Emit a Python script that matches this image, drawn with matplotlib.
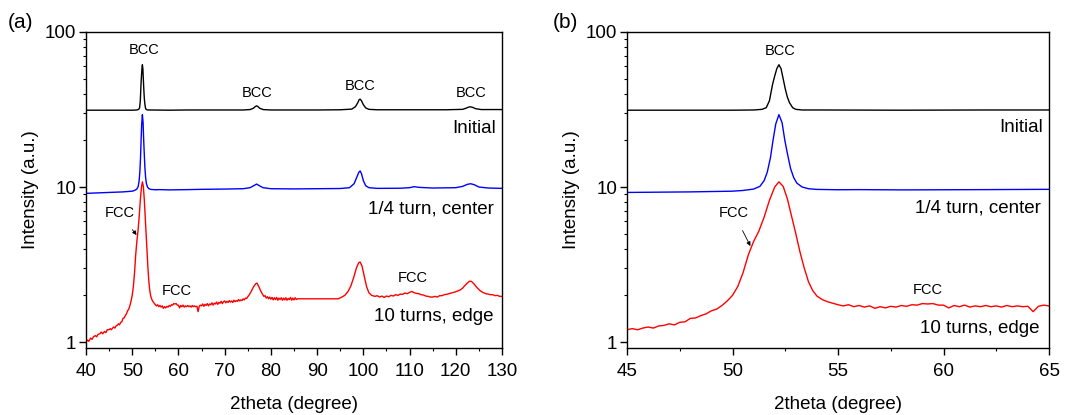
import matplotlib
matplotlib.use("Agg")
import matplotlib.pyplot as plt
from matplotlib.ticker import MultipleLocator, LogLocator, FixedLocator, FixedFormatter, NullFormatter

plt.rcParams['font.family'] = ['Liberation Sans', 'DejaVu Sans']

# ---------------- data ----------------
initial_x = [40, 45, 50, 51.0, 51.4, 51.6, 51.75, 51.9, 52.0, 52.1, 52.2, 52.3, 52.4, 52.5, 52.6, 52.7,
             52.85, 53.0, 53.3, 54, 58, 62, 66, 70, 74, 75.5, 76.2, 76.6, 76.9, 77.2, 77.6, 78.3, 80,
             85, 90, 95, 97.5, 98.3, 98.8, 99.1, 99.3, 99.6, 100.0, 100.5, 101.2, 103, 108, 113, 118,
             121.5, 122.3, 122.8, 123.2, 123.7, 124.3, 125.5, 128, 130]
initial_y = [31.3, 31.3, 31.3, 31.4, 31.7, 32.5, 36, 46, 52, 58, 61.5, 58, 50, 43, 38, 35,
             32.5, 31.7, 31.4, 31.4, 31.3, 31.4, 31.4, 31.4, 31.4, 31.6, 32.2, 33.0, 33.4, 33.0, 32.2, 31.6, 31.4,
             31.4, 31.4, 31.5, 31.8, 33, 35, 36.6, 36.9, 36, 34, 32.4, 31.7, 31.5, 31.5, 31.5, 31.5,
             31.7, 32.3, 32.8, 32.9, 32.6, 32.0, 31.6, 31.6, 31.6]

quarter_x = [40, 42, 44, 46, 48, 50, 50.5, 51.0, 51.3, 51.5, 51.65, 51.8, 51.92, 52.05, 52.2, 52.35,
             52.48, 52.6, 52.75, 52.9, 53.05, 53.3, 53.6, 54, 55, 56, 58, 60, 62, 65, 70, 74, 75.5,
             76.3, 76.9, 77.5, 78.3, 80, 85, 90, 95, 97, 98, 98.6, 99.0, 99.3, 99.6, 100.0, 100.5,
             101.2, 103, 108, 110, 111, 112, 115, 120, 121.5, 122.5, 123.2, 124, 125, 127, 130]
quarter_y = [9.1, 9.15, 9.2, 9.25, 9.3, 9.4, 9.5, 9.7, 10.1, 11.0, 12.5, 15.5, 20, 25.5, 29.3, 26,
             20, 16.5, 13.2, 11.5, 10.6, 10.0, 9.75, 9.65, 9.6, 9.62, 9.58, 9.6, 9.62, 9.66, 9.7, 9.75, 9.9,
             10.2, 10.45, 10.2, 9.9, 9.75, 9.72, 9.75, 9.78, 9.9, 10.5, 11.6, 12.4, 12.7, 12.2, 11.0, 10.2,
             9.9, 9.8, 9.82, 9.9, 10.05, 9.95, 9.85, 9.9, 10.1, 10.4, 10.5, 10.35, 10.0, 9.85, 9.8]

edge_x = [40.0, 40.3, 40.6, 41.0, 41.3, 41.6, 42.0, 42.3, 42.6, 43.0, 43.3, 43.6, 44.0, 44.3, 44.6,
          45.0, 45.25, 45.5, 45.75, 46.0, 46.25, 46.5, 46.75, 47.0, 47.25, 47.5, 47.75, 48.0, 48.25,
          48.5, 48.75, 49.0, 49.25, 49.5, 49.75, 50.0, 50.25, 50.5, 50.75, 51.0, 51.25, 51.5, 51.75,
          52.0, 52.2, 52.4, 52.6, 52.8, 53.0, 53.2, 53.4, 53.6, 53.8, 54.0, 54.25, 54.5, 54.75,
          55.0, 55.25, 55.5, 55.75, 56.0, 56.25, 56.5, 56.75, 57.0, 57.25, 57.5, 57.75, 58.0, 58.25,
          58.5, 58.75, 59.0, 59.25, 59.5, 59.75, 60.0, 60.25, 60.5, 60.75, 61.0, 61.25, 61.5, 61.75,
          62.0, 62.25, 62.5, 62.75, 63.0, 63.25, 63.5, 63.75, 64.0, 64.25, 64.5, 64.75, 65.0,
          65.25, 65.5, 65.75, 66.0, 66.25, 66.5, 66.75, 67.0, 67.25, 67.5, 67.75, 68.0, 68.25, 68.5,
          68.75, 69.0, 69.25, 69.5, 69.75, 70.0, 70.25, 70.5, 70.75, 71.0, 71.25, 71.5, 71.75, 72.0,
          72.25, 72.5, 72.75, 73.0, 73.25, 73.5, 73.75, 74.0, 74.25, 74.5, 74.75, 75.0, 75.25, 75.5,
          75.75, 76.0, 76.25, 76.5, 76.75, 77.0, 77.25, 77.5, 77.75, 78.0, 78.25, 78.5, 78.75, 79.0,
          79.25, 79.5, 79.75, 80.0, 80.25, 80.5, 80.75, 81.0, 81.25, 81.5, 81.75, 82.0, 82.25, 82.5,
          82.75, 83.0, 83.25, 83.5, 83.75, 84.0, 84.25, 84.5, 84.75, 85.0, 85.25, 85.5, 85.7,
          94.6, 95.2, 96.0, 96.7, 97.3, 97.9, 98.5, 99.0, 99.3, 99.7, 100.2, 100.7, 101.2, 101.8,
          102.5, 103.0, 103.5, 104.0, 104.5, 105.0, 105.5, 106.0, 106.5, 107.0, 107.5, 108.0, 108.5,
          109.0, 109.5, 110.0, 110.5, 111.0, 111.5, 112.0, 112.5, 113.0, 113.5, 114.0, 114.5, 115.0,
          115.5, 116.0, 116.5, 117.0, 117.5, 118.0, 118.5, 119.0, 119.5, 120.0, 120.5, 121.0, 121.5,
          122.0, 122.5, 123.0, 123.4, 124.0, 124.5, 125.0, 125.5, 126.0, 126.5, 127.0, 127.5, 128.0,
          128.5, 129.0, 129.5, 130.0]
edge_y = [1.00, 1.03, 1.01, 1.06, 1.04, 1.08, 1.10, 1.08, 1.12, 1.13, 1.16, 1.13, 1.17, 1.15, 1.20,
          1.20, 1.22, 1.20, 1.23, 1.25, 1.23, 1.27, 1.28, 1.31, 1.29, 1.34, 1.35, 1.42, 1.43,
          1.48, 1.52, 1.59, 1.63, 1.72, 1.84, 2.00, 2.28, 2.80, 3.65, 4.45, 5.2, 6.4, 8.2,
          10.0, 10.8, 10.1, 8.4, 6.5, 5.0, 3.8, 3.0, 2.45, 2.15, 1.98, 1.88, 1.82, 1.78,
          1.74, 1.71, 1.74, 1.69, 1.72, 1.68, 1.71, 1.65, 1.69, 1.66, 1.70, 1.68, 1.72, 1.70,
          1.74, 1.73, 1.77, 1.76, 1.77, 1.73, 1.73, 1.66, 1.72, 1.69, 1.73, 1.68, 1.71, 1.69,
          1.72, 1.69, 1.71, 1.68, 1.72, 1.69, 1.71, 1.69, 1.70, 1.57, 1.70, 1.73, 1.71,
          1.76, 1.70, 1.75, 1.72, 1.77, 1.71, 1.76, 1.74, 1.79, 1.73, 1.78, 1.76, 1.81, 1.75,
          1.80, 1.78, 1.83, 1.77, 1.82, 1.84, 1.79, 1.83, 1.80, 1.85, 1.81, 1.84, 1.80, 1.86,
          1.82, 1.85, 1.83, 1.88, 1.84, 1.87, 1.85, 1.90, 1.87, 1.92, 1.91, 1.96, 2.00, 2.06,
          2.12, 2.20, 2.27, 2.33, 2.38, 2.40, 2.32, 2.24, 2.15, 2.08, 2.02, 1.97, 1.99, 1.92,
          1.96, 1.90, 1.95, 1.89, 1.94, 1.87, 1.93, 1.88, 1.94, 1.86, 1.92, 1.88, 1.93, 1.86,
          1.92, 1.87, 1.93, 1.86, 1.91, 1.88, 1.94, 1.86, 1.92, 1.87, 1.93, 1.88, 1.90,
          1.90, 1.94, 2.00, 2.12, 2.30, 2.60, 3.00, 3.25, 3.28, 3.10, 2.65, 2.28, 2.08, 2.00,
          1.97, 1.99, 1.95, 1.98, 1.94, 1.98, 1.96, 2.00, 1.98, 2.02, 2.00, 2.04, 2.03,
          2.07, 2.05, 2.09, 2.12, 2.08, 2.06, 2.05, 2.02, 2.01, 1.98, 1.97, 1.95, 1.95,
          1.97, 1.95, 1.99, 1.99, 2.02, 2.03, 2.05, 2.07, 2.09, 2.11, 2.14, 2.17, 2.23,
          2.32, 2.40, 2.47, 2.46, 2.36, 2.26, 2.18, 2.12, 2.08, 2.05, 2.04, 2.02, 2.02,
          1.99, 2.00, 1.97, 1.97]

series_labels = ["Initial", "1/4 turn, center", "10 turns, edge"]
x_ticks_a = [40, 50, 60, 70, 80, 90, 100, 110, 120, 130]
x_ticks_b = [45, 50, 55, 60, 65]
y_ticks = [1, 10, 100]
y_tick_labels = ["1", "10", "100"]

# ---------------- figure ----------------
fig = plt.figure(figsize=(10.73, 4.15), dpi=100)
ax_a = fig.add_axes([86 / 1073, 67 / 415, 416 / 1073, 316 / 415])
ax_b = fig.add_axes([627 / 1073, 67 / 415, 422 / 1073, 316 / 415])

FS = 13.5
for ax in (ax_a, ax_b):
    ax.plot(initial_x, initial_y, color='black', lw=1.0)
    ax.plot(quarter_x, quarter_y, color='#0000ff', lw=1.0)
    ax.plot(edge_x, edge_y, color='#ff0000', lw=1.0)
    ax.set_yscale('log')
    ax.set_ylim(0.915, 100)
    ax.yaxis.set_major_locator(FixedLocator(y_ticks))
    ax.yaxis.set_major_formatter(FixedFormatter(y_tick_labels))
    ax.yaxis.set_minor_locator(LogLocator(base=10, subs=range(2, 10)))
    ax.yaxis.set_minor_formatter(NullFormatter())
    ax.tick_params(which='both', direction='out', top=False, right=False, labelsize=FS)
    ax.tick_params(which='major', length=5, width=1)
    ax.tick_params(which='minor', length=2.5, width=0.8)
    ax.tick_params(axis='x', which='major', pad=5.5)
    ax.tick_params(axis='y', which='major', pad=2)
    for s in ax.spines.values():
        s.set_linewidth(1.0)
    ax.set_xlabel("2theta (degree)", fontsize=FS, labelpad=12)
    ax.set_ylabel("Intensity (a.u.)", fontsize=FS, labelpad=4)

ax_a.set_xlim(40, 130)
ax_a.set_xticks(x_ticks_a)
ax_a.xaxis.set_minor_locator(MultipleLocator(5))
ax_b.set_xlim(45, 65)
ax_b.set_xticks(x_ticks_b)
ax_b.xaxis.set_minor_locator(MultipleLocator(2.5))

SFS = 10.5
# panel (a) annotations
for (xx, yy) in [(52.5, 76.6), (77.0, 40.4), (99.3, 45.0), (123.4, 40.4)]:
    ax_a.text(xx, yy, "BCC", fontsize=SFS, ha='center', va='center')
ax_a.text(128.8, 23.9, series_labels[0], fontsize=FS, ha='right', va='center')
ax_a.text(128.3, 7.17, series_labels[1], fontsize=FS, ha='right', va='center')
ax_a.text(128.1, 1.47, series_labels[2], fontsize=FS, ha='right', va='center')
ax_a.annotate("FCC", xy=(50.95, 4.9), xytext=(47.2, 6.76), fontsize=SFS, ha='center', va='center',
              arrowprops=dict(arrowstyle='-|>', color='black', lw=0.6, mutation_scale=6,
                              shrinkA=6, shrinkB=0))
ax_a.text(59.6, 2.13, "FCC", fontsize=SFS, ha='center', va='center')
ax_a.text(110.7, 2.6, "FCC", fontsize=SFS, ha='center', va='center')

# panel (b) annotations
ax_b.text(52.24, 75, "BCC", fontsize=SFS, ha='center', va='center')
ax_b.text(64.73, 24.2, series_labels[0], fontsize=FS, ha='right', va='center')
ax_b.text(64.6, 7.35, series_labels[1], fontsize=FS, ha='right', va='center')
ax_b.text(64.57, 1.22, series_labels[2], fontsize=FS, ha='right', va='center')
ax_b.annotate("FCC", xy=(50.85, 4.16), xytext=(50.06, 6.76), fontsize=SFS, ha='center', va='center',
              arrowprops=dict(arrowstyle='-|>', color='black', lw=0.6, mutation_scale=6,
                              shrinkA=6, shrinkB=0))
ax_b.text(59.25, 2.18, "FCC", fontsize=SFS, ha='center', va='center')

fig.text(8 / 1073, 1 - 22 / 415, "(a)", fontsize=15, ha='left', va='center')
fig.text(553 / 1073, 1 - 22 / 415, "(b)", fontsize=15, ha='left', va='center')

fig.savefig("out.png", dpi=100)
